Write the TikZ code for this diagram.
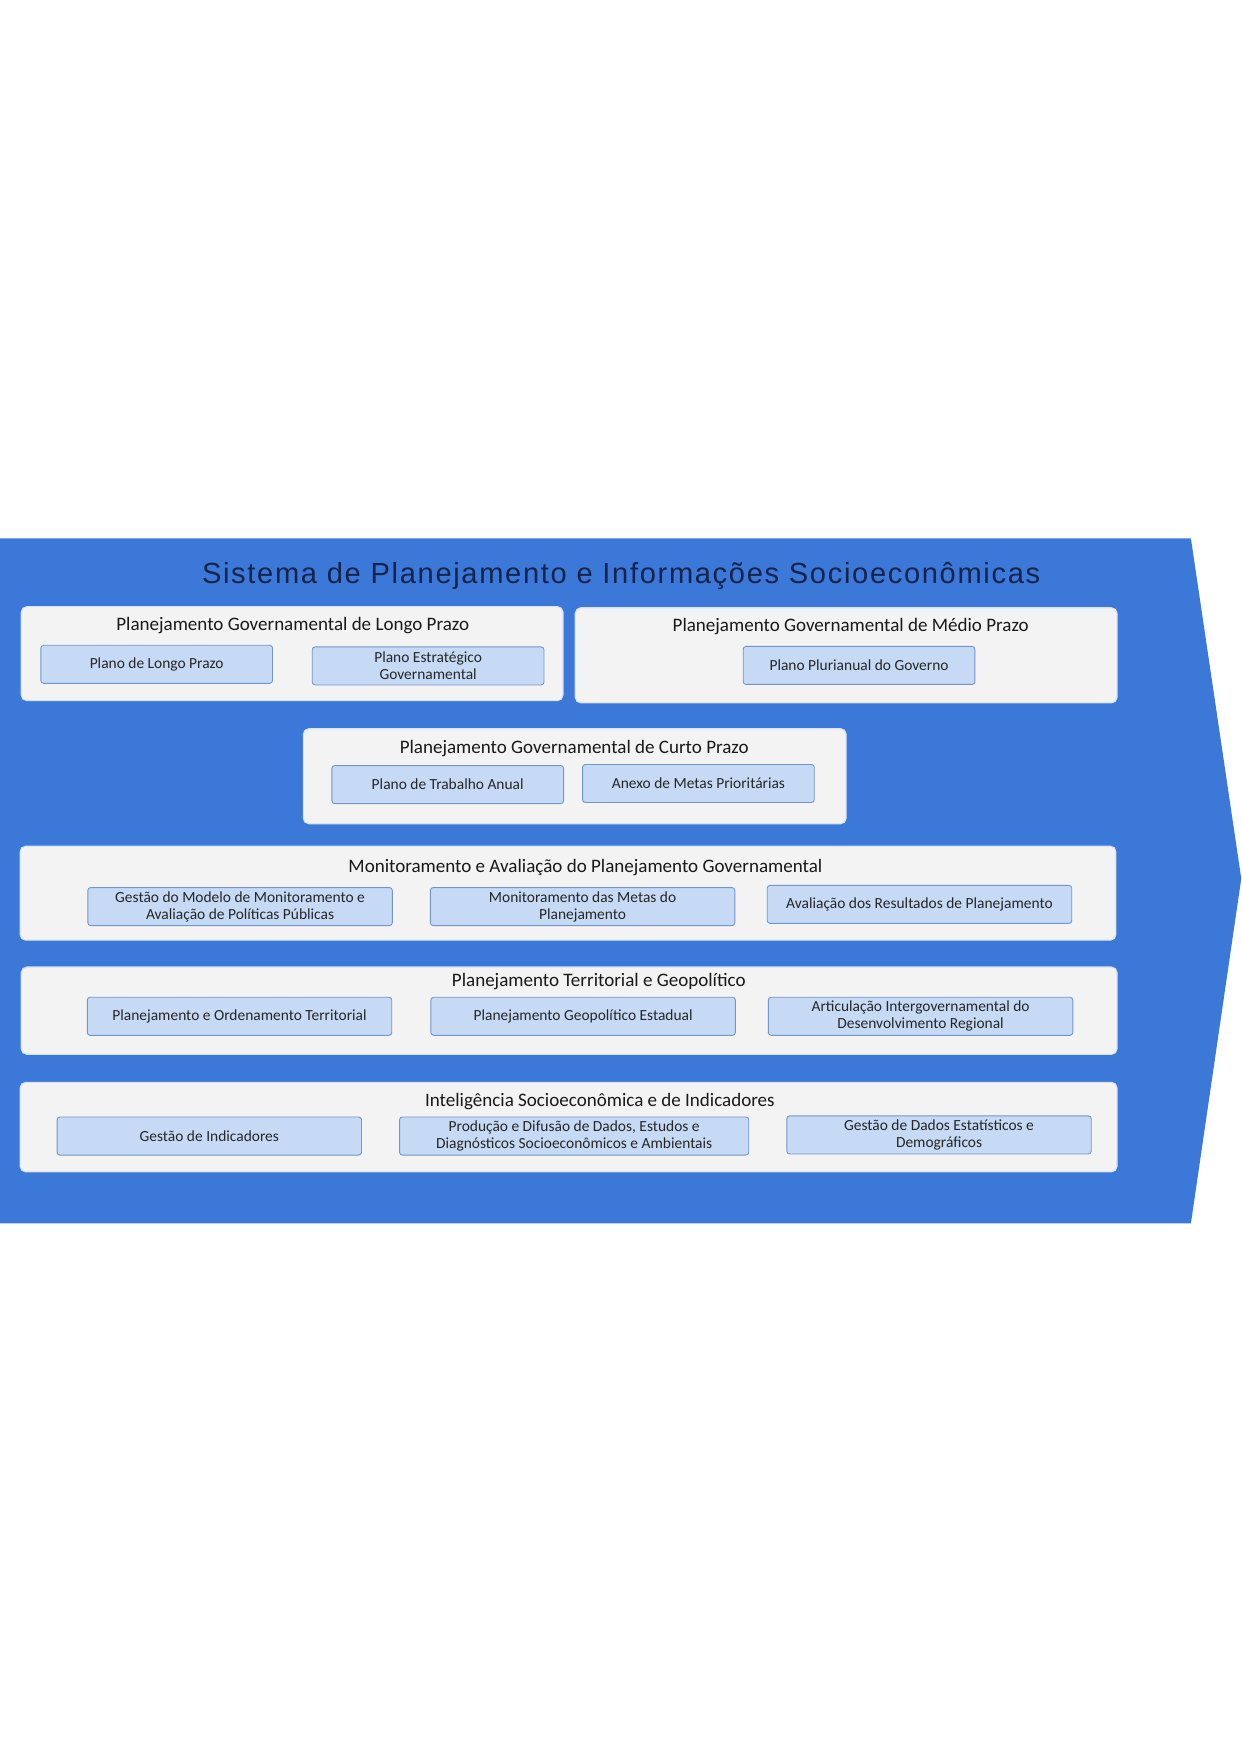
\documentclass[tikz,border=0pt]{standalone}
\usepackage{fontspec}
\setmainfont{Carlito}
\newfontfamily\titlefont[LetterSpace=5.7]{Liberation Sans}
\definecolor{fundo}{HTML}{3B78D8}
\definecolor{caixa}{HTML}{F3F3F3}
\definecolor{caixaborda}{HTML}{D6E2F2}
\definecolor{item}{HTML}{C6DAF6}
\definecolor{itemborda}{HTML}{7296C8}
\definecolor{tinta}{HTML}{15244C}
\tikzset{
  grupo/.style={draw=caixaborda, line width=1pt, fill=caixa, rounded corners=5pt, rectangle, minimum width=484pt, minimum height=84pt, inner sep=0pt},
  itembox/.style={draw=itemborda, line width=0.8pt, fill=item, rounded corners=2.5pt, rectangle, minimum width=207pt, minimum height=34pt, inner sep=1pt, align=center, text=black!85, font=\fontsize{13.8}{15}\selectfont},
  largo/.style={itembox, minimum width=272pt},
  titulo/.style={font=\fontsize{17}{19}\selectfont, text=black!90, inner sep=0pt}
}
\begin{document}
\begin{tikzpicture}[x=1pt, y=-1pt]
  \useasboundingbox[fill=white] (0,0) rectangle (1109,1568);
  % faixa azul em forma de seta
  \fill[fundo] (0,481) -- (1064,481) -- (1109,785) -- (1064,1093) -- (0,1093) -- cycle;
  \node[font=\titlefont\fontsize{26}{30}\selectfont, text=tinta] (sistema) at (555,515) {Sistema de Planejamento e Informações Socioeconômicas};

  % longo prazo
  \node[grupo] (longo) at (261,584) {};
  \node[titulo] (longot) at (261.5,559) {Planejamento Governamental de Longo Prazo};
  \node[itembox] (plp) at (140,593.5) {Plano de Longo Prazo};
  \node[itembox] (peg) at (382.5,595) {Plano Estratégico\\Governamental};

  % medio prazo
  \node[grupo, minimum height=85pt] (medio) at (756,585.5) {};
  \node[titulo] (mediot) at (760,560) {Planejamento Governamental de Médio Prazo};
  \node[itembox] (ppa) at (767.5,594.5) {Plano Plurianual do Governo};

  % curto prazo
  \node[grupo, minimum width=485pt, minimum height=85pt] (curto) at (513.5,693.5) {};
  \node[titulo] (curtot) at (513,669) {Planejamento Governamental de Curto Prazo};
  \node[itembox] (pta) at (400,701) {Plano de Trabalho Anual};
  \node[itembox] (amp) at (624,700) {Anexo de Metas Prioritárias};

  % monitoramento
  \node[grupo, minimum width=979pt] (monit) at (507.5,798) {};
  \node[titulo] (monitt) at (523,775) {Monitoramento e Avaliação do Planejamento Governamental};
  \node[largo] (gmm) at (214.5,810) {Gestão do Modelo de Monitoramento e\\Avaliação de Políticas Públicas};
  \node[largo] (mmp) at (520.5,810) {Monitoramento das Metas do\\Planejamento};
  \node[largo] (arp) at (821.5,808) {Avaliação dos Resultados de Planejamento};

  % territorial
  \node[grupo, minimum width=979pt, minimum height=78pt] (territ) at (508.5,903) {};
  \node[titulo] (territt) at (535,877) {Planejamento Territorial e Geopolítico};
  \node[largo] (pot) at (214,908) {Planejamento e Ordenamento Territorial};
  \node[largo] (pge) at (521,908) {Planejamento Geopolítico Estadual};
  \node[largo] (aidr) at (822.5,908) {Articulação Intergovernamental do\\Desenvolvimento Regional};

  % inteligencia
  \node[grupo, minimum width=980pt, minimum height=80pt] (intel) at (508,1007) {};
  \node[titulo] (intelt) at (536,984) {Inteligência Socioeconômica e de Indicadores};
  \node[largo] (gi) at (187,1015) {Gestão de Indicadores};
  \node[largo, minimum width=312pt] (pdd) at (513,1015) {Produção e Difusão de Dados, Estudos e\\Diagnósticos Socioeconômicos e Ambientais};
  \node[largo] (gde) at (839,1014) {Gestão de Dados Estatísticos e\\Demográficos};
\end{tikzpicture}
\end{document}
